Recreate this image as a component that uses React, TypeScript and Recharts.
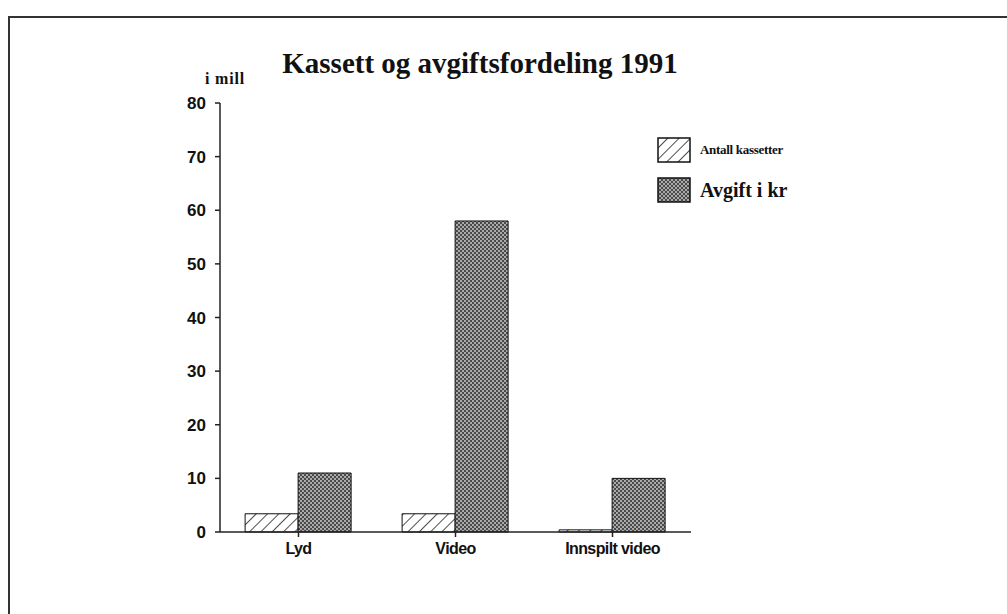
import React from "react";
import { BarChart, Bar, XAxis, YAxis } from "recharts";

const categories = ["Lyd", "Video", "Innspilt video"];
const antallKassetter = [3.4, 3.4, 0.4];
const avgiftKr = [11, 58, 10];
const yTicks = [0, 10, 20, 30, 40, 50, 60, 70, 80];

const data = categories.map((c, i) => ({
  name: c,
  antall: antallKassetter[i],
  avgift: avgiftKr[i],
}));

const sans = "'Liberation Sans', Arial, sans-serif";
const serif = "'Liberation Serif', 'DejaVu Serif', serif";

const LegendContent = () => (
  <div style={{ fontFamily: serif, fontWeight: "bold", color: "#111" }}>
    <div style={{ display: "flex", alignItems: "center", height: 26, marginBottom: 14 }}>
      <svg width={34} height={26} style={{ marginRight: 9 }}>
        <rect x={1} y={1} width={32} height={24} fill="url(#hatch)" stroke="#111" strokeWidth={1.5} />
      </svg>
      <span style={{ fontSize: 13, letterSpacing: -0.3 }}>Antall kassetter</span>
    </div>
    <div style={{ display: "flex", alignItems: "center", height: 26 }}>
      <svg width={34} height={26} style={{ marginRight: 9 }}>
        <rect x={1} y={1} width={32} height={24} fill="url(#dots)" stroke="#111" strokeWidth={1.5} />
      </svg>
      <span style={{ fontSize: 20 }}>Avgift i kr</span>
    </div>
  </div>
);

export default function App() {
  return (
    <div style={{ position: "absolute", left: 0, top: 0, width: 1007, height: 614, background: "#fff" }}>
      <div
        style={{
          position: "absolute",
          left: 8,
          top: 16,
          width: 999,
          height: 598,
          borderTop: "2px solid #333",
          borderLeft: "2px solid #333",
        }}
      />
      <div
        style={{
          position: "absolute",
          left: 220,
          top: 47,
          width: 520,
          textAlign: "center",
          fontFamily: serif,
          fontWeight: "bold",
          fontSize: 29,
          color: "#111",
        }}
      >
        Kassett og avgiftsfordeling 1991
      </div>
      <div
        style={{
          position: "absolute",
          left: 205,
          top: 70,
          fontFamily: serif,
          fontWeight: "bold",
          fontSize: 16,
          letterSpacing: 0.8,
          color: "#111",
        }}
      >
        i mill
      </div>
      <div style={{ position: "absolute", left: 0, top: 0 }}>
        <BarChart
          width={1007}
          height={614}
          data={data}
          margin={{ top: 103, right: 316, bottom: 0, left: 0 }}
          barCategoryGap="16%"
          barGap={0}
        >
          <defs>
            <pattern id="hatch" patternUnits="userSpaceOnUse" width={8} height={8} patternTransform="rotate(45)">
              <rect width={8} height={8} fill="#fff" />
              <line x1={0} y1={0} x2={0} y2={8} stroke="#222" strokeWidth={1.6} />
            </pattern>
            <pattern id="dots" patternUnits="userSpaceOnUse" width={4} height={4}>
              <rect width={4} height={4} fill="#4a4a4a" />
              <circle cx={1} cy={1} r={0.9} fill="#d8d8d8" />
              <circle cx={3} cy={3} r={0.9} fill="#d8d8d8" />
            </pattern>
          </defs>
          <XAxis
            dataKey="name"
            height={82}
            stroke="#222"
            strokeWidth={1.5}
            tickSize={5}
            tickMargin={6}
            tick={{ fill: "#111", fontFamily: sans, fontWeight: "bold", fontSize: 16, letterSpacing: -0.6 }}
          />
          <YAxis
            width={220}
            domain={[0, 80]}
            ticks={yTicks}
            interval={0}
            stroke="#222"
            strokeWidth={1.5}
            tickSize={5}
            tickMargin={9}
            tick={{ fill: "#111", fontFamily: sans, fontWeight: "bold", fontSize: 17 }}
          />
          <Bar dataKey="antall" name="Antall kassetter" fill="url(#hatch)" stroke="#111" strokeWidth={1} isAnimationActive={false} />
          <Bar dataKey="avgift" name="Avgift i kr" fill="url(#dots)" stroke="#111" strokeWidth={1} isAnimationActive={false} />
        </BarChart>
      </div>
      <div style={{ position: "absolute", left: 657, top: 137, width: 220 }}>
        <LegendContent />
      </div>
    </div>
  );
}
